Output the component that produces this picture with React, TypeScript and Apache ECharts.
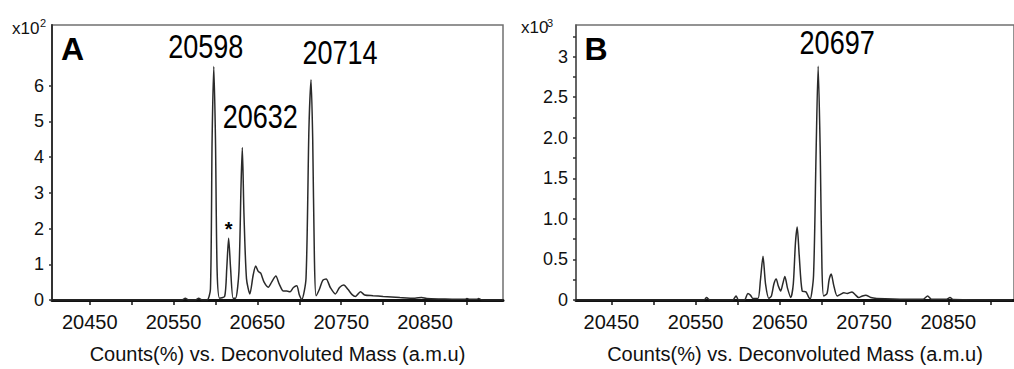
import { useEffect, useRef } from "react";
import * as echarts from "echarts";

// ---- data ----
const xTickValues = [20450, 20500, 20550, 20600, 20650, 20700, 20750, 20800, 20850, 20900];
const xLabelValues = [20450, 20550, 20650, 20750, 20850];
const yTicksA = [0, 1, 2, 3, 4, 5, 6];
const yLabelsB = [0, 0.5, 1, 1.5, 2, 2.5, 3];
const yTicksB = [0, 0.25, 0.5, 0.75, 1, 1.25, 1.5, 1.75, 2, 2.25, 2.5, 2.75, 3, 3.25];

// Panel A: deconvoluted mass (a.m.u) vs counts (x10^2)
const massA = [
  20405, 20560, 20564, 20568, 20576, 20580, 20584, 20590,
  20594, 20596, 20598, 20600, 20602, 20605,
  20611, 20613.5, 20615.7, 20618, 20621, 20624,
  20628, 20630.5, 20632, 20634, 20637, 20641,
  20645, 20648, 20651, 20654, 20658, 20663, 20667, 20672, 20676, 20681, 20685, 20689, 20693, 20697, 20700, 20703,
  20708, 20711.5, 20714, 20716, 20718, 20720,
  20724, 20728, 20732, 20737, 20743, 20748, 20753, 20758, 20763, 20767, 20773, 20778, 20788, 20800, 20820, 20838,
  20846, 20852, 20870, 20898, 20900, 20903, 20912, 20914, 20917, 20943,
];
const countsA = [
  0, 0, 0.05, 0, 0, 0.05, 0, 0,
  0.3, 4.5, 6.54, 4.5, 0.8, 0.05,
  0.1, 0.9, 1.73, 0.9, 0.05, 0.05,
  0.8, 3.2, 4.27, 2.4, 0.6, 0.17,
  0.7, 0.95, 0.8, 0.75, 0.5, 0.36, 0.5, 0.67, 0.45, 0.25, 0.25, 0.23, 0.35, 0.4, 0.15, 0.02,
  0.6, 4.8, 6.17, 4.5, 1.2, 0.12,
  0.3, 0.55, 0.59, 0.35, 0.17, 0.35, 0.42, 0.3, 0.15, 0.1, 0.23, 0.14, 0.12, 0.1, 0.07, 0.05,
  0.07, 0.04, 0.03, 0.02, 0.04, 0.02, 0.02, 0.04, 0.01, 0,
];
const peakNamesA = ["20598", "20632", "20714"];
const peakMassA = [20598, 20632, 20714];
const peakCountsA = [6.54, 4.27, 6.17];
const starMassA = 20615.7;
const starCountsA = 1.73;

// Panel B: deconvoluted mass (a.m.u) vs counts (x10^3)
const massB = [
  20408, 20560, 20563, 20567, 20594, 20598, 20601, 20608, 20612, 20615, 20618, 20624,
  20627, 20630, 20633, 20637, 20640, 20643, 20645.7, 20648, 20651, 20653.5, 20656, 20659, 20663,
  20666, 20668.5, 20670.6, 20673, 20676.5, 20681, 20684, 20686,
  20690, 20693, 20695.5, 20698, 20700, 20702,
  20706, 20708.5, 20711, 20714, 20718, 20722, 20726, 20730, 20735.6, 20740, 20743.5, 20748, 20752, 20758, 20765,
  20800, 20820, 20825.5, 20830, 20848, 20852, 20856, 20926,
];
const countsB = [
  0, 0, 0.03, 0, 0, 0.05, 0, 0, 0.08, 0.06, 0.02, 0.02,
  0.25, 0.54, 0.2, 0.02, 0.05, 0.2, 0.26, 0.18, 0.11, 0.2, 0.29, 0.15, 0.03,
  0.2, 0.7, 0.9, 0.55, 0.11, 0.1, 0.04, 0.01,
  0.3, 1.8, 2.88, 1.8, 0.4, 0.05,
  0.08, 0.25, 0.32, 0.18, 0.05, 0.07, 0.09, 0.08, 0.1, 0.06, 0.03, 0.05, 0.06, 0.03, 0.02,
  0.01, 0.01, 0.05, 0.01, 0.01, 0.03, 0.005, 0,
];
const peakNamesB = ["20697"];
const peakMassB = [20695.5];
const peakCountsB = [2.88];

const xAxisTitle = "Counts(%) vs. Deconvoluted Mass (a.m.u)";

// ---- styles ----
const FONT = '"Liberation Sans", Arial, sans-serif';
const offsetsA: [number, number][] = [[-8, -20], [18, -31], [29, -27]];
const offsetsB: [number, number][] = [[19, -24]];

function makeXAxis(gridIndex: number, min: number, max: number) {
  return {
    type: "value",
    gridIndex,
    min,
    max,
    name: xAxisTitle,
    nameLocation: "middle",
    nameGap: 44,
    nameTextStyle: { fontFamily: FONT, fontSize: 20, color: "#111" },
    axisLine: { show: true, onZero: false, lineStyle: { color: "#111", width: 3 } },
    axisTick: { show: true, customValues: xTickValues, length: 5, lineStyle: { color: "#111", width: 1.5 } },
    axisLabel: {
      customValues: xLabelValues, fontFamily: FONT, fontSize: 20, color: "#111", margin: 12,
      formatter: (v: number) => String(v),
    },
    splitLine: { show: false },
  };
}

export default function App() {
  const ref = useRef<HTMLDivElement>(null);
  useEffect(() => {
    if (!ref.current) return;
    const chart = echarts.init(ref.current, null, { renderer: "svg" });
    const lineStyle = { color: "#2a2a2a", width: 1.5 };
    const option: any = {
      animation: false,
      backgroundColor: "#fff",
      grid: [
        { left: 52, top: 25, width: 451, height: 276, show: true, borderColor: "#707070", borderWidth: 1.5 },
        { left: 576, top: 25, width: 442, height: 276, show: true, borderColor: "#707070", borderWidth: 1.5 },
      ],
      xAxis: [makeXAxis(0, 20405, 20943), makeXAxis(1, 20408, 20928)],
      yAxis: [
        {
          type: "value", gridIndex: 0, min: 0, max: 7.7,
          axisLine: { show: true, lineStyle: { color: "#333", width: 2 } },
          axisTick: { show: true, customValues: yTicksA, length: 3, lineStyle: { color: "#333", width: 1.5 } },
          axisLabel: { customValues: yTicksA, fontFamily: FONT, fontSize: 18, color: "#111", margin: 8 },
          splitLine: { show: false },
        },
        {
          type: "value", gridIndex: 1, min: 0, max: 3.39,
          axisLine: { show: true, lineStyle: { color: "#555", width: 1.5 } },
          axisTick: { show: true, customValues: yTicksB, length: 3, lineStyle: { color: "#333", width: 1.5 } },
          axisLabel: {
            customValues: yLabelsB, fontFamily: FONT, fontSize: 18, color: "#111", margin: 8,
            formatter: (v: number) => (v === 0 || v === 3 ? String(v) : v.toFixed(1)),
          },
          splitLine: { show: false },
        },
      ],
      series: [
        {
          type: "line", xAxisIndex: 0, yAxisIndex: 0, showSymbol: false, smooth: 0.25,
          lineStyle, data: massA.map((m, i) => [m, countsA[i]]), silent: true,
        },
        {
          type: "line", xAxisIndex: 1, yAxisIndex: 1, showSymbol: false, smooth: 0.25,
          lineStyle, data: massB.map((m, i) => [m, countsB[i]]), silent: true,
        },
      ],
    };
    chart.setOption(option);

    // peak annotations, anchored to data coordinates through the chart's own scales
    const peakText = (grid: number, text: string, m: number, c: number, off: [number, number]) => {
      const p = chart.convertToPixel({ gridIndex: grid } as any, [m, c]) as number[];
      return {
        type: "text", x: p[0] + off[0], y: p[1] + off[1], scaleX: 0.82, silent: true,
        style: { text, font: `33px ${FONT}`, fill: "#000", textAlign: "center", textVerticalAlign: "middle" },
      };
    };
    const starP = chart.convertToPixel({ gridIndex: 0 } as any, [starMassA, starCountsA]) as number[];
    const graphics: any[] = [
      ...peakNamesA.map((n, i) => peakText(0, n, peakMassA[i], peakCountsA[i], offsetsA[i])),
      ...peakNamesB.map((n, i) => peakText(1, n, peakMassB[i], peakCountsB[i], offsetsB[i])),
      { type: "text", x: starP[0], y: starP[1] - 9, silent: true, style: { text: "*", font: `bold 20px ${FONT}`, fill: "#000", textAlign: "center", textVerticalAlign: "middle" } },
      { type: "text", x: 72.5, y: 48.5, style: { text: "A", font: `bold 32px ${FONT}`, fill: "#000", textAlign: "center", textVerticalAlign: "middle" } },
      { type: "text", x: 596, y: 49, style: { text: "B", font: `bold 32px ${FONT}`, fill: "#000", textAlign: "center", textVerticalAlign: "middle" } },
      { type: "text", x: 12, y: 28, style: { text: "x10", font: `17px ${FONT}`, fill: "#111", textAlign: "left", textVerticalAlign: "middle" } },
      { type: "text", x: 40, y: 23, style: { text: "2", font: `11px ${FONT}`, fill: "#111", textAlign: "left", textVerticalAlign: "middle" } },
      { type: "text", x: 521, y: 27.5, style: { text: "x10", font: `17px ${FONT}`, fill: "#111", textAlign: "left", textVerticalAlign: "middle" } },
      { type: "text", x: 547, y: 22.5, style: { text: "3", font: `11px ${FONT}`, fill: "#111", textAlign: "left", textVerticalAlign: "middle" } },
    ];
    chart.setOption({ graphic: graphics });
    return () => chart.dispose();
  }, []);
  return <div ref={ref} style={{ position: "fixed", left: 0, top: 0, width: 1014, height: 369 }} />;
}
